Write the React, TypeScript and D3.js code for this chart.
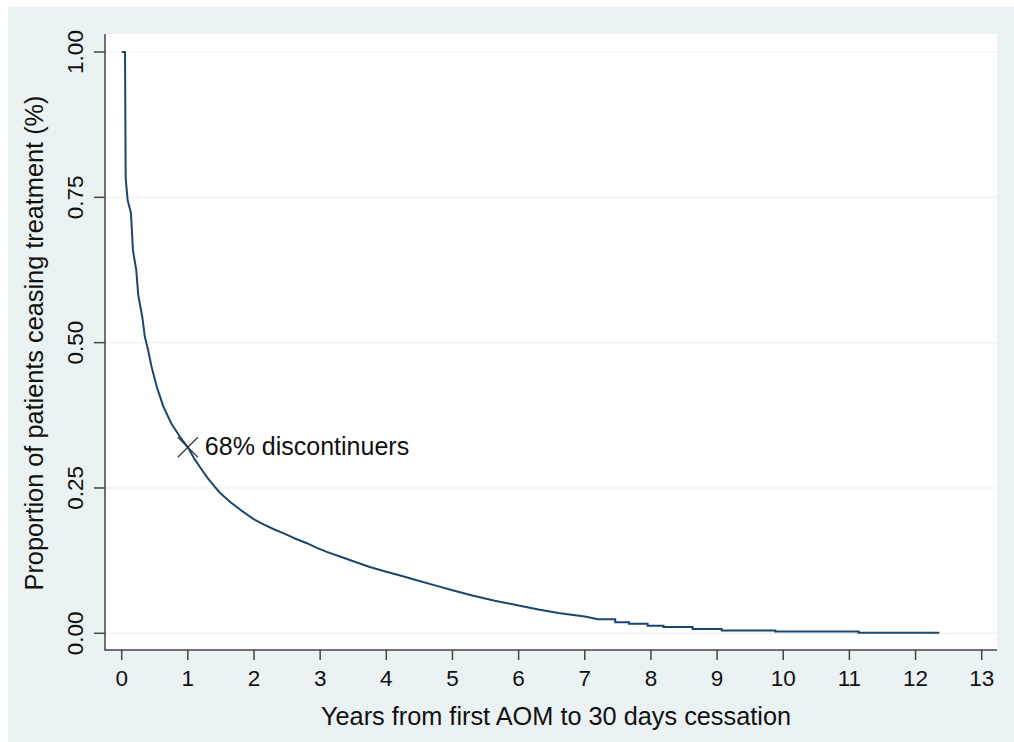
import React from "react";
import * as d3 from "d3";

const years: number[] = [
  0, 0.05, 0.06, 0.09, 0.14, 0.17, 0.22, 0.25, 0.31, 0.35, 0.4, 0.45, 0.53, 0.63, 0.75, 0.88,
  1.0, 1.1, 1.2, 1.3, 1.4, 1.5, 1.65, 1.8, 1.9, 2.0, 2.15, 2.3, 2.45, 2.6, 2.8, 2.95,
  3.1, 3.3, 3.5, 3.75, 4.0, 4.25, 4.5, 4.75, 5.0, 5.3, 5.64, 6.0, 6.3, 6.6, 7.0, 7.2,
  7.46, 7.67, 7.95, 8.19, 8.63, 9.07, 9.88, 11.14, 12.36,
];
const survival: number[] = [
  1.0, 1.0, 0.783, 0.745, 0.723, 0.659, 0.625, 0.582, 0.545, 0.51, 0.487, 0.459, 0.424, 0.39, 0.361, 0.338,
  0.32, 0.3, 0.283, 0.267, 0.253, 0.24, 0.225, 0.212, 0.204, 0.196, 0.187, 0.179, 0.172, 0.164, 0.155, 0.147,
  0.14, 0.132, 0.124, 0.114, 0.106, 0.098, 0.09, 0.082, 0.074, 0.065, 0.056, 0.048, 0.041, 0.035, 0.029, 0.024,
  0.019, 0.0165, 0.013, 0.0108, 0.0074, 0.005, 0.003, 0.001, 0.001,
];
const stepFrom = 7.2; // tail drawn as visible stairs
const xTicks: number[] = [0, 1, 2, 3, 4, 5, 6, 7, 8, 9, 10, 11, 12, 13];
const yTicks: number[] = [0, 0.25, 0.5, 0.75, 1.0];
const markerPoint = { t: 1.0, v: 0.32, label: "68% discontinuers" };
const xTitle = "Years from first AOM to 30 days cessation";
const yTitle = "Proportion of patients ceasing treatment (%)";

const BG = "#EAF2F3";
const LINE = "#1A476F";
const FONT = "'Liberation Sans', Arial, sans-serif";

export default function App() {
  const plotL = 105, plotR = 997, plotT = 34, plotB = 650;
  const x = d3.scaleLinear().domain([0, 13]).range([121.7, 981.7]);
  const y = d3.scaleLinear().domain([0, 1]).range([633.3, 52]);
  const data = years.map((t, i) => [t, survival[i]] as [number, number]);
  const head = data.filter((d) => d[0] <= stepFrom);
  const tail = data.filter((d) => d[0] >= stepFrom);
  const lineLin = d3
    .line<[number, number]>()
    .x((d) => x(d[0]))
    .y((d) => y(d[1]));
  const lineStep = d3
    .line<[number, number]>()
    .x((d) => x(d[0]))
    .y((d) => y(d[1]))
    .curve(d3.curveStepAfter);
  const mx = x(markerPoint.t);
  const my = y(markerPoint.v);
  return (
    <svg
      width={1014}
      height={742}
      style={{ position: "absolute", left: 0, top: 0 }}
      fontFamily={FONT}
    >
      <rect x={0} y={0} width={1014} height={742} fill="#ffffff" />
      <rect x={8} y={7} width={1006} height={735} fill={BG} />
      <rect x={plotL} y={plotT} width={plotR - plotL} height={plotB - plotT} fill="#ffffff" />
      {yTicks.map((v) => (
        <line key={"g" + v} x1={plotL} x2={plotR} y1={y(v)} y2={y(v)} stroke={BG} strokeWidth={1.2} />
      ))}
      <path d={lineLin(head) || ""} fill="none" stroke={LINE} strokeWidth={2} strokeLinejoin="round" />
      <path d={lineStep(tail) || ""} fill="none" stroke={LINE} strokeWidth={2} />
      {/* marker */}
      <g stroke="#333" strokeWidth={1.2}>
        <line x1={mx - 10} y1={my - 10} x2={mx + 10} y2={my + 10} />
        <line x1={mx - 10} y1={my + 10} x2={mx + 10} y2={my - 10} />
      </g>
      <text x={mx + 17} y={my + 8} fontSize={25} fill="#111">
        {markerPoint.label}
      </text>
      {/* axes */}
      <line x1={plotL} x2={plotL} y1={plotT} y2={plotB + 0.75} stroke="#444" strokeWidth={1.5} />
      <line x1={plotL} x2={plotR} y1={plotB} y2={plotB} stroke="#444" strokeWidth={1.5} />
      {yTicks.map((v) => (
        <g key={"y" + v}>
          <line x1={plotL - 11} x2={plotL} y1={y(v)} y2={y(v)} stroke="#444" strokeWidth={1.5} />
          <text
            transform={`translate(83,${y(v)}) rotate(-90)`}
            textAnchor="middle"
            fontSize={22.5}
            fill="#111"
          >
            {v.toFixed(2)}
          </text>
        </g>
      ))}
      {xTicks.map((t) => (
        <g key={"x" + t}>
          <line x1={x(t)} x2={x(t)} y1={plotB} y2={plotB + 10} stroke="#444" strokeWidth={1.5} />
          <text x={x(t)} y={686} textAnchor="middle" fontSize={22.5} fill="#111">
            {t}
          </text>
        </g>
      ))}
      <text x={556} y={725} textAnchor="middle" fontSize={25.3} fill="#111">
        {xTitle}
      </text>
      <text transform={`translate(43,343) rotate(-90)`} textAnchor="middle" fontSize={25.3} fill="#111">
        {yTitle}
      </text>
    </svg>
  );
}
